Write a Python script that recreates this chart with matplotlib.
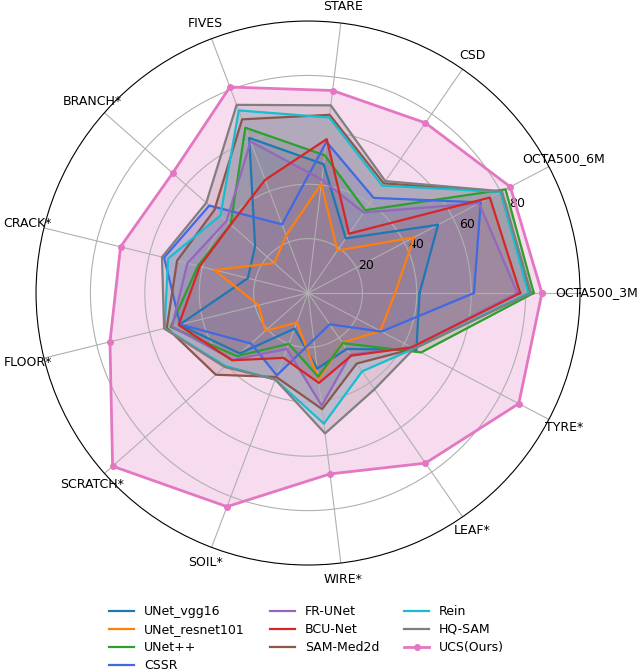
import numpy as np
import matplotlib
matplotlib.use("Agg")
import matplotlib.pyplot as plt

categories = ['OCTA500_3M', 'OCTA500_6M', 'CSD', 'STARE', 'FIVES', 'BRANCH*', 'CRACK*',
              'FLOOR*', 'SCRATCH*', 'SOIL*', 'WIRE*', 'LEAF*', 'TYRE*']

unet_vgg16 = [41, 54, 24.4, 47.7, 61, 26, 22.8, 48.7, 33.5, 14, 28, 25, 45]
unet_resnet101 = [32, 44, 19, 40.4, 22.7, 16.6, 35.4, 18.7, 21, 11.6, 31.9, 22.2, 30]
unet_pp = [83, 82, 37, 51, 65, 38, 41.7, 52, 35, 20, 31, 22.4, 47]
cssr = [61, 71.7, 42.5, 56, 27, 48.5, 54.5, 48.4, 28, 32.4, 17.3, 14, 30.5]
fr_unet = [77, 71, 36, 42, 59.6, 40, 45.7, 51.5, 37, 22, 41.7, 27.5, 43]
bcu_net = [78, 75.5, 26.5, 57, 44.5, 38, 41, 49, 37.3, 25.5, 33.3, 28, 43]
sam_med2d = [81.5, 80, 49, 66, 68.3, 46, 49.6, 53.5, 45.3, 33, 43, 31.5, 44]
rein = [81, 80, 48, 65, 71.8, 43, 53, 54.3, 40.5, 34, 48.4, 35, 44]
hq_sam = [82, 80.5, 50, 69.5, 74, 50, 55.3, 54.5, 41, 34, 52, 43, 44]
ucs = [86, 84, 76, 75, 81, 66.5, 71, 75, 96, 84, 67, 76, 87.5]

series = [
    ('UNet_vgg16', unet_vgg16, 'tab:blue'),
    ('UNet_resnet101', unet_resnet101, 'tab:orange'),
    ('UNet++', unet_pp, 'tab:green'),
    ('CSSR', cssr, 'royalblue'),
    ('FR-UNet', fr_unet, 'tab:purple'),
    ('BCU-Net', bcu_net, 'tab:red'),
    ('SAM-Med2d', sam_med2d, 'tab:brown'),
    ('Rein', rein, 'tab:cyan'),
    ('HQ-SAM', hq_sam, 'tab:gray'),
    ('UCS(Ours)', ucs, 'tab:pink'),
]

n = len(categories)
angles = np.linspace(0, 2 * np.pi, n, endpoint=False).tolist()
angles += angles[:1]

fig = plt.figure(figsize=(6.4, 6.72), dpi=100)
ax = fig.add_axes([0.0563, 0.1592, 0.85, 0.8095], polar=True)

for name, vals, color in series:
    v = list(vals) + vals[:1]
    if name == 'UCS(Ours)':
        ax.plot(angles, v, color=color, linewidth=2, marker='o', markersize=4, label=name)
    else:
        ax.plot(angles, v, color=color, linewidth=1.6, label=name)
    ax.fill(angles, v, color=color, alpha=0.25)

ax.set_ylim(0, 100)
ax.set_yticks([20, 40, 60, 80])
ax.set_yticklabels(['20', '40', '60', '80'], fontsize=9)
ax.set_thetagrids(np.degrees(angles[:-1]), categories, fontsize=9)
ax.tick_params(axis='x', pad=1.5)

fig.legend(loc='center', bbox_to_anchor=(0.479, 0.05), ncol=3, frameon=False,
           fontsize=9, labelspacing=0.4)

fig.savefig('out.png', dpi=100)
